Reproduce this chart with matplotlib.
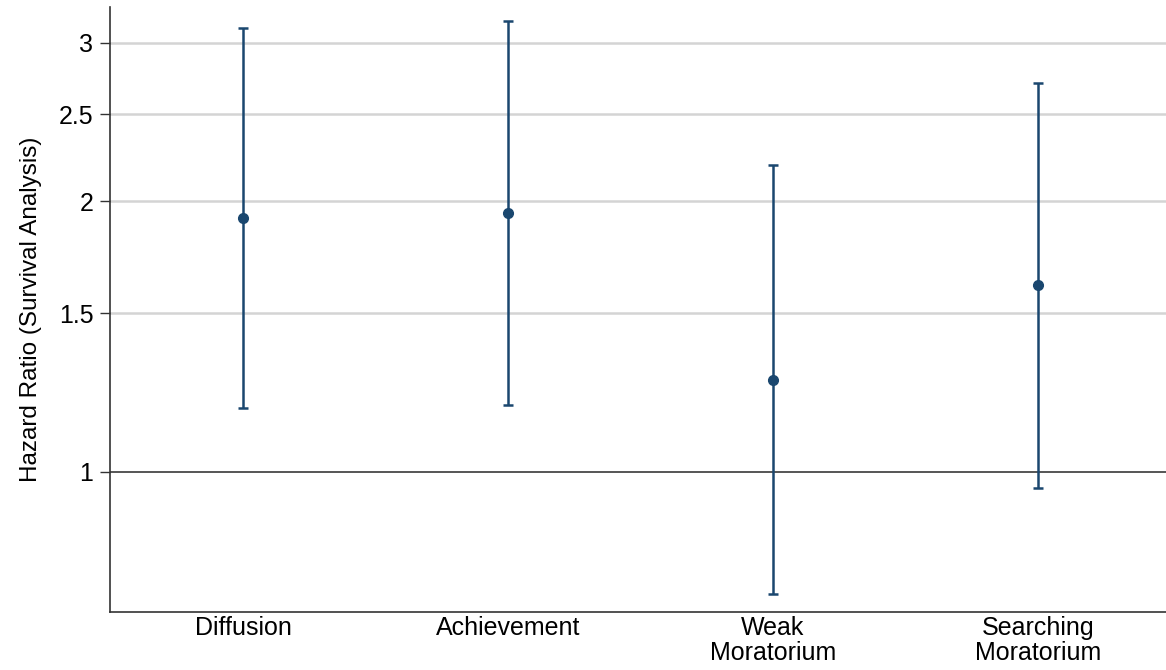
import numpy as np
from matplotlib import pyplot as plt

categories = ["Diffusion", "Achievement", "Weak\nMoratorium", "Searching\nMoratorium"]
hazard_ratio = [1.918, 1.938, 1.266, 1.615]
ci_low = [1.178, 1.187, 0.730, 0.960]
ci_high = [3.12, 3.17, 2.197, 2.71]
yticks = [1, 1.5, 2, 2.5, 3]

def main():
    plt.rcParams['font.family'] = ['Liberation Sans', 'DejaVu Sans']
    fig = plt.figure(figsize=(11.66, 6.70), dpi=100)
    ax = fig.add_axes([0.0943, 0.0866, 0.9057, 0.903])

    x = np.arange(1, len(categories) + 1)
    hr = np.array(hazard_ratio)
    err = [hr - np.array(ci_low), np.array(ci_high) - hr]
    navy = "#1a476f"

    ax.set_yscale("log")
    ax.set_ylim(0.698, 3.29)
    ax.set_xlim(0.498, 4.483)

    for t in yticks:
        if t == 1:
            ax.axhline(t, color="#555555", linewidth=1.4, zorder=1)
        else:
            ax.axhline(t, color="#d4d4d4", linewidth=1.8, zorder=1)

    ax.errorbar(x, hr, yerr=err, fmt="o", color=navy, ecolor=navy, elinewidth=1.8,
                capsize=3.8, capthick=1.8, markersize=7, zorder=3)

    ax.set_yticks(yticks)
    ax.set_yticklabels(["1", "1.5", "2", "2.5", "3"])
    ax.yaxis.set_minor_locator(plt.NullLocator())
    ax.set_xticks(x)
    ax.set_xticklabels(categories, fontsize=18, linespacing=1.05)
    ax.tick_params(axis="x", length=0, pad=3)
    ax.tick_params(axis="y", labelsize=18, length=7, width=1, color="#333333", pad=5)
    ax.set_ylabel("Hazard Ratio (Survival Analysis)", fontsize=17.5, labelpad=12)

    ax.spines["top"].set_visible(False)
    ax.spines["right"].set_visible(False)
    for s in ["left", "bottom"]:
        ax.spines[s].set_color("#333333")
        ax.spines[s].set_linewidth(1.2)

    fig.savefig("out.png", dpi=100)

if __name__ == "__main__":
    main()
